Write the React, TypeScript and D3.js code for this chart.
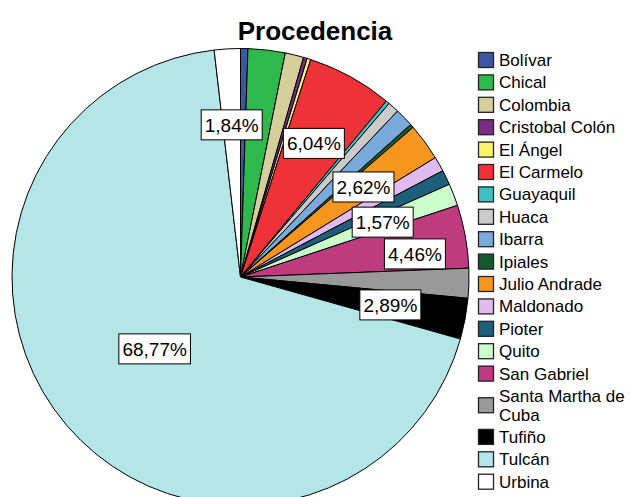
import React from "react";
import * as d3 from "d3";

const categories = [
  "Bolívar", "Chical", "Colombia", "Cristobal Colón", "El Ángel", "El Carmelo",
  "Guayaquil", "Huaca", "Ibarra", "Ipiales", "Julio Andrade", "Maldonado",
  "Pioter", "Quito", "San Gabriel", "Santa Martha de Cuba", "Tufiño", "Tulcán", "Urbina",
];
// percentages (n = 381)
const percents = [
  0.52, 2.62, 1.31, 0.26, 0.26, 6.04, 0.26, 0.79, 1.31, 0.26, 2.62, 1.05,
  1.05, 1.57, 4.46, 2.10, 2.89, 68.77, 1.84,
];
const colors = [
  "#3c55a5", "#2fb84c", "#d5cf9b", "#7a2b84", "#f8f46c", "#ee3238",
  "#3ec0c1", "#cbcbcb", "#79aadb", "#14582f", "#f7961f", "#e1bbef",
  "#1e5f79", "#cdfccc", "#bf3b80", "#999999", "#000000", "#b4e6e8", "#ffffff",
];
const labelled = ["Urbina", "El Carmelo", "Julio Andrade", "Quito", "San Gabriel", "Tufiño", "Tulcán"];
const legendLines: Record<string, string[]> = { "Santa Martha de Cuba": ["Santa Martha de", "Cuba"] };

const W = 630, H = 497;
const cx = 240.5, cy = 277, R = 228.5;
// label placement tweaks (radius fraction, angle nudge in degrees)
const labelTweak: Record<string, { f: number; da: number }> = {
  "San Gabriel": { f: 0.77, da: 2.7 },
  "Tulcán": { f: 0.49, da: 0.5 },
};

export default function App() {
  const data = categories.map((c, i) => ({ name: c, value: percents[i], color: colors[i] }));
  const pie = d3.pie<any>().sort(null).value((d: any) => d.value).startAngle(0).endAngle(2 * Math.PI);
  const arcs = pie(data);
  const arcGen = d3.arc<any>().innerRadius(0).outerRadius(R);

  const fmt = (v: number) => v.toFixed(2).replace(".", ",") + "%";

  const rowStep = 22.4;
  let yCursor = 60;
  const legendItems = categories.map((c, i) => {
    const lines = legendLines[c] || [c];
    const extra = (lines.length - 1) * 18.5;
    const center = yCursor + extra / 2;
    yCursor += rowStep + extra;
    return { name: c, lines, center, color: colors[i] };
  });

  return (
    <svg width={W} height={H} style={{ position: "absolute", left: 0, top: 0, background: "#fff" }}
      fontFamily="'Liberation Sans', Arial, sans-serif">
      <text x={315} y={40} textAnchor="middle" fontSize={26} fontWeight="bold" fill="#000">Procedencia</text>
      <g transform={`translate(${cx},${cy})`}>
        {arcs.map((a, i) => (
          <path key={i} d={arcGen(a) as string} fill={a.data.color} stroke="#000" strokeWidth={1} strokeLinejoin="round" />
        ))}
        {arcs.filter(a => labelled.includes(a.data.name)).map((a, i) => {
          const t = labelTweak[a.data.name] || { f: 0.667, da: 0 };
          const mid = (a.startAngle + a.endAngle) / 2 + (t.da * Math.PI) / 180;
          const r = R * t.f;
          const x = r * Math.sin(mid);
          const y = -r * Math.cos(mid);
          const txt = fmt(a.data.value);
          const w = txt.length * 10.6 + 8;
          const h = 30;
          return (
            <g key={"l" + i} transform={`translate(${x},${y})`}>
              <rect x={-w / 2} y={-h / 2} width={w} height={h} fill="#fff" stroke="#000" strokeWidth={1} />
              <text x={0} y={7} textAnchor="middle" fontSize={19} fill="#000">{txt}</text>
            </g>
          );
        })}
      </g>
      <g>
        {legendItems.map((it, i) => (
          <g key={"lg" + i}>
            <rect x={478.5} y={it.center - 7.5} width={15} height={15} fill={it.color} stroke="#222" strokeWidth={1.3} />
            {it.lines.map((ln, j) => (
              <text key={j} x={499} y={it.center + 6 - ((it.lines.length - 1) * 18.5) / 2 + j * 18.5} fontSize={17} fill="#000">{ln}</text>
            ))}
          </g>
        ))}
      </g>
    </svg>
  );
}
